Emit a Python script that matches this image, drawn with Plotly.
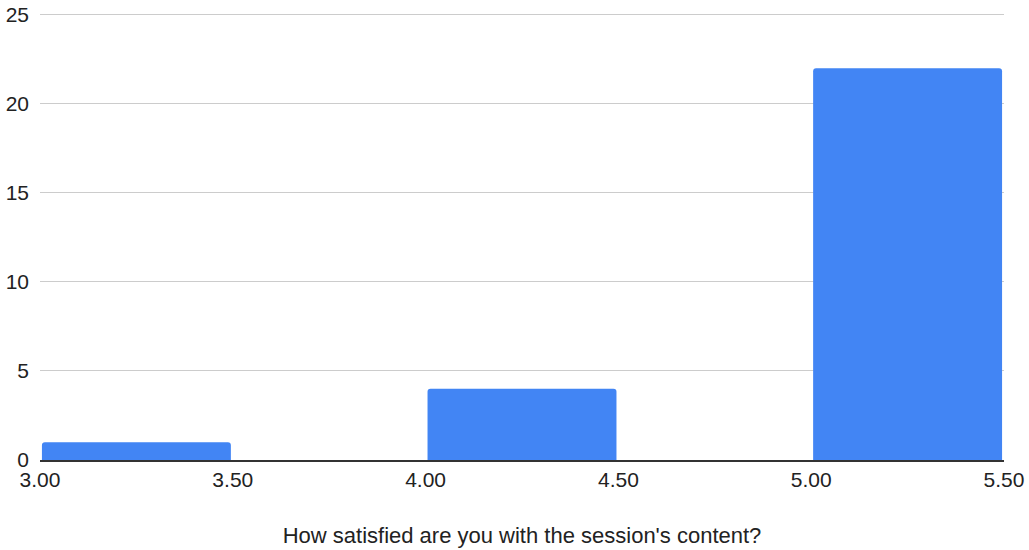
import plotly.graph_objects as go

bin_starts = [3.0, 4.0, 5.0]
bin_width = 0.5
counts = [1, 4, 22]
x_ticks = [3.0, 3.5, 4.0, 4.5, 5.0, 5.5]
y_ticks = [0, 5, 10, 15, 20, 25]
x_title = "How satisfied are you with the session's content?"

centers = [s + bin_width / 2 for s in bin_starts]

fig = go.Figure(go.Bar(
    x=centers, y=counts, width=[bin_width * 0.98] * len(counts),
    marker=dict(color="#4285f4", cornerradius=3, line=dict(width=0)),
    hoverinfo="skip",
))

fig.update_layout(
    width=1029, height=550,
    margin=dict(l=40, r=25, t=13, b=90, autoexpand=False),
    paper_bgcolor="white", plot_bgcolor="white",
    font=dict(family="Liberation Sans, Arial, sans-serif", color="#222222", size=20),
    showlegend=False,
)
fig.update_xaxes(
    range=[3.0, 5.5], tickvals=x_ticks, tickformat=".2f", automargin=False,
    showgrid=False, zeroline=False, showline=True, linecolor="#333333", linewidth=1.5,
    ticks="", ticklen=0, tickfont=dict(size=21, color="#222222"),
    title=dict(text=x_title, font=dict(size=22, color="#222222"), standoff=38),
)
fig.update_yaxes(
    range=[0, 25.1], tickvals=y_ticks, automargin=False,
    showgrid=True, gridcolor="#cccccc", gridwidth=1,
    zeroline=False, showline=False, ticks="", tickfont=dict(size=21, color="#222222"),
    ticklabelstandoff=10,
)

fig.write_html(
    "out.html",
    config={"displayModeBar": False},
    post_script="document.body.style.margin='0';document.body.style.padding='0';",
)
